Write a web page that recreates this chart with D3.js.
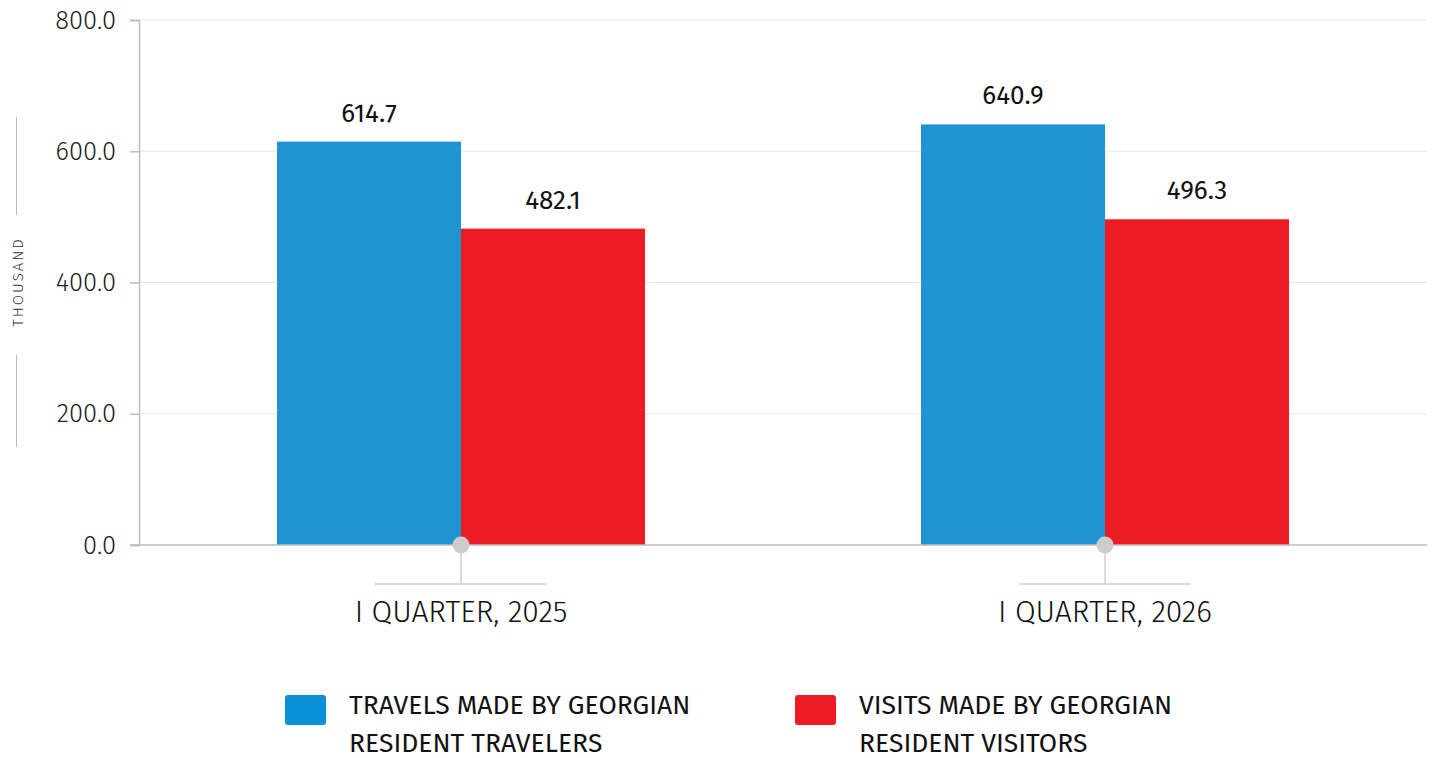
<!DOCTYPE html>
<html>
<head>
<meta charset="utf-8">
<script src="https://cdn.jsdelivr.net/npm/d3@7"></script>
<style>
  body { margin: 0; background: #fff; }
  svg { display: block; font-family: "Fira Sans", "Noto Sans", sans-serif; }
</style>
</head>
<body>
<svg id="chart" width="1432" height="758"></svg>
<script>
const categories = ['I QUARTER, 2025', 'I QUARTER, 2026'];
const seriesNames = ['TRAVELS MADE BY GEORGIAN RESIDENT TRAVELERS', 'VISITS MADE BY GEORGIAN RESIDENT VISITORS'];
const travels = [614.7, 640.9];
const visits = [482.1, 496.3];
const yTicks = [0, 200, 400, 600, 800];
const legendLines = [
  ['TRAVELS MADE BY GEORGIAN', 'RESIDENT TRAVELERS'],
  ['VISITS MADE BY GEORGIAN', 'RESIDENT VISITORS']
];

const barColors = ['#1e94d2', '#ed1c24'];
const legendColors = ['#0a90d6', '#ed1c24'];

const svg = d3.select('#chart');
const margin = { left: 139, right: 5, top: 20, bottom: 213 };
const width = 1432, height = 758;

const x = d3.scaleBand()
  .domain(categories)
  .range([margin.left, width - margin.right]);

const inner = d3.scaleBand()
  .domain([0, 1])
  .range([0, x.bandwidth() * 0.5714])
  .padding(0);

const y = d3.scaleLinear()
  .domain([0, 800])
  .range([height - margin.bottom, margin.top]);

// grid
svg.append('g')
  .selectAll('line')
  .data(yTicks.slice(1))
  .join('line')
  .attr('x1', margin.left)
  .attr('x2', width - margin.right)
  .attr('y1', (d) => y(d))
  .attr('y2', (d) => y(d))
  .attr('stroke', '#e6e6e6')
  .attr('stroke-width', 1);

// y axis
const yAxis = svg.append('g')
  .attr('transform', `translate(${margin.left},0)`)
  .call(d3.axisLeft(y).tickValues(yTicks).tickFormat(d3.format('.1f')).tickSize(9).tickPadding(14));
yAxis.select('.domain').attr('stroke', '#bdbdbd').attr('stroke-width', 1.5);
yAxis.selectAll('.tick line').attr('stroke', '#bdbdbd').attr('stroke-width', 1.5);
yAxis.selectAll('.tick text')
  .attr('fill', '#222')
  .style('font-size', '25.5px')
  .style('font-family', '"Fira Sans", "Noto Sans", sans-serif')
  .style('font-weight', 300);

// axis title
const titleY = 282;
svg.append('text')
  .attr('transform', `translate(23,${titleY}) rotate(-90)`)
  .attr('text-anchor', 'middle')
  .attr('fill', '#333')
  .style('font-size', '15px')
  .style('font-weight', 300)
  .style('letter-spacing', '2px')
  .text('THOUSAND');
svg.append('line')
  .attr('x1', 16.5).attr('x2', 16.5)
  .attr('y1', titleY - 165).attr('y2', titleY - 67)
  .attr('stroke', '#bbb');
svg.append('line')
  .attr('x1', 16.5).attr('x2', 16.5)
  .attr('y1', titleY + 73).attr('y2', titleY + 165)
  .attr('stroke', '#bbb');

// bars
const groups = svg.append('g')
  .selectAll('g')
  .data(categories.map((c, i) => ({ c, values: [travels[i], visits[i]] })))
  .join('g')
  .attr('transform', (d) => `translate(${x(d.c) + (x.bandwidth() - inner.range()[1]) / 2},0)`);

groups.selectAll('rect')
  .data((d) => d.values)
  .join('rect')
  .attr('x', (d, i) => inner(i))
  .attr('width', inner.bandwidth())
  .attr('y', (d) => y(d))
  .attr('height', (d) => y(0) - y(d))
  .attr('fill', (d, i) => barColors[i]);

groups.selectAll('text')
  .data((d) => d.values)
  .join('text')
  .attr('x', (d, i) => inner(i) + inner.bandwidth() / 2)
  .attr('y', (d) => y(d) - 20)
  .attr('text-anchor', 'middle')
  .attr('fill', '#111')
  .style('font-size', '26px')
  .text((d) => d.toFixed(1));

// x axis baseline
svg.append('line')
  .attr('x1', margin.left - 9)
  .attr('x2', width - margin.right)
  .attr('y1', y(0))
  .attr('y2', y(0))
  .attr('stroke', '#bdbdbd')
  .attr('stroke-width', 1.5);

// category markers
const cats = svg.append('g')
  .selectAll('g')
  .data(categories)
  .join('g')
  .attr('transform', (d) => `translate(${x(d) + x.bandwidth() / 2},0)`);

cats.append('line')
  .attr('x1', 0).attr('x2', 0)
  .attr('y1', y(0)).attr('y2', y(0) + 39)
  .attr('stroke', '#d0d0d0').attr('stroke-width', 1.5);
cats.append('line')
  .attr('x1', -86).attr('x2', 86)
  .attr('y1', y(0) + 39).attr('y2', y(0) + 39)
  .attr('stroke', '#d0d0d0').attr('stroke-width', 1.5);
cats.append('circle')
  .attr('cx', 0).attr('cy', y(0))
  .attr('r', 8.5)
  .attr('fill', '#cccccc');
cats.append('text')
  .attr('y', y(0) + 77)
  .attr('text-anchor', 'middle')
  .attr('fill', '#111')
  .style('font-size', '30px')
  .style('font-weight', 300)
  .text((d) => d);

// legend
const legendX = [285, 795];
const legend = svg.append('g')
  .selectAll('g')
  .data(seriesNames)
  .join('g')
  .attr('transform', (d, i) => `translate(${legendX[i]},695)`);

legend.append('rect')
  .attr('width', 41).attr('height', 30)
  .attr('rx', 3)
  .attr('fill', (d, i) => legendColors[i]);

legend.append('text')
  .attr('x', 64)
  .attr('fill', '#111')
  .style('font-size', '26.5px')
  .selectAll('tspan')
  .data((d, i) => legendLines[i])
  .join('tspan')
  .attr('x', 64)
  .attr('y', (d, j) => 19 + j * 38)
  .text((d) => d);
</script>
</body>
</html>
